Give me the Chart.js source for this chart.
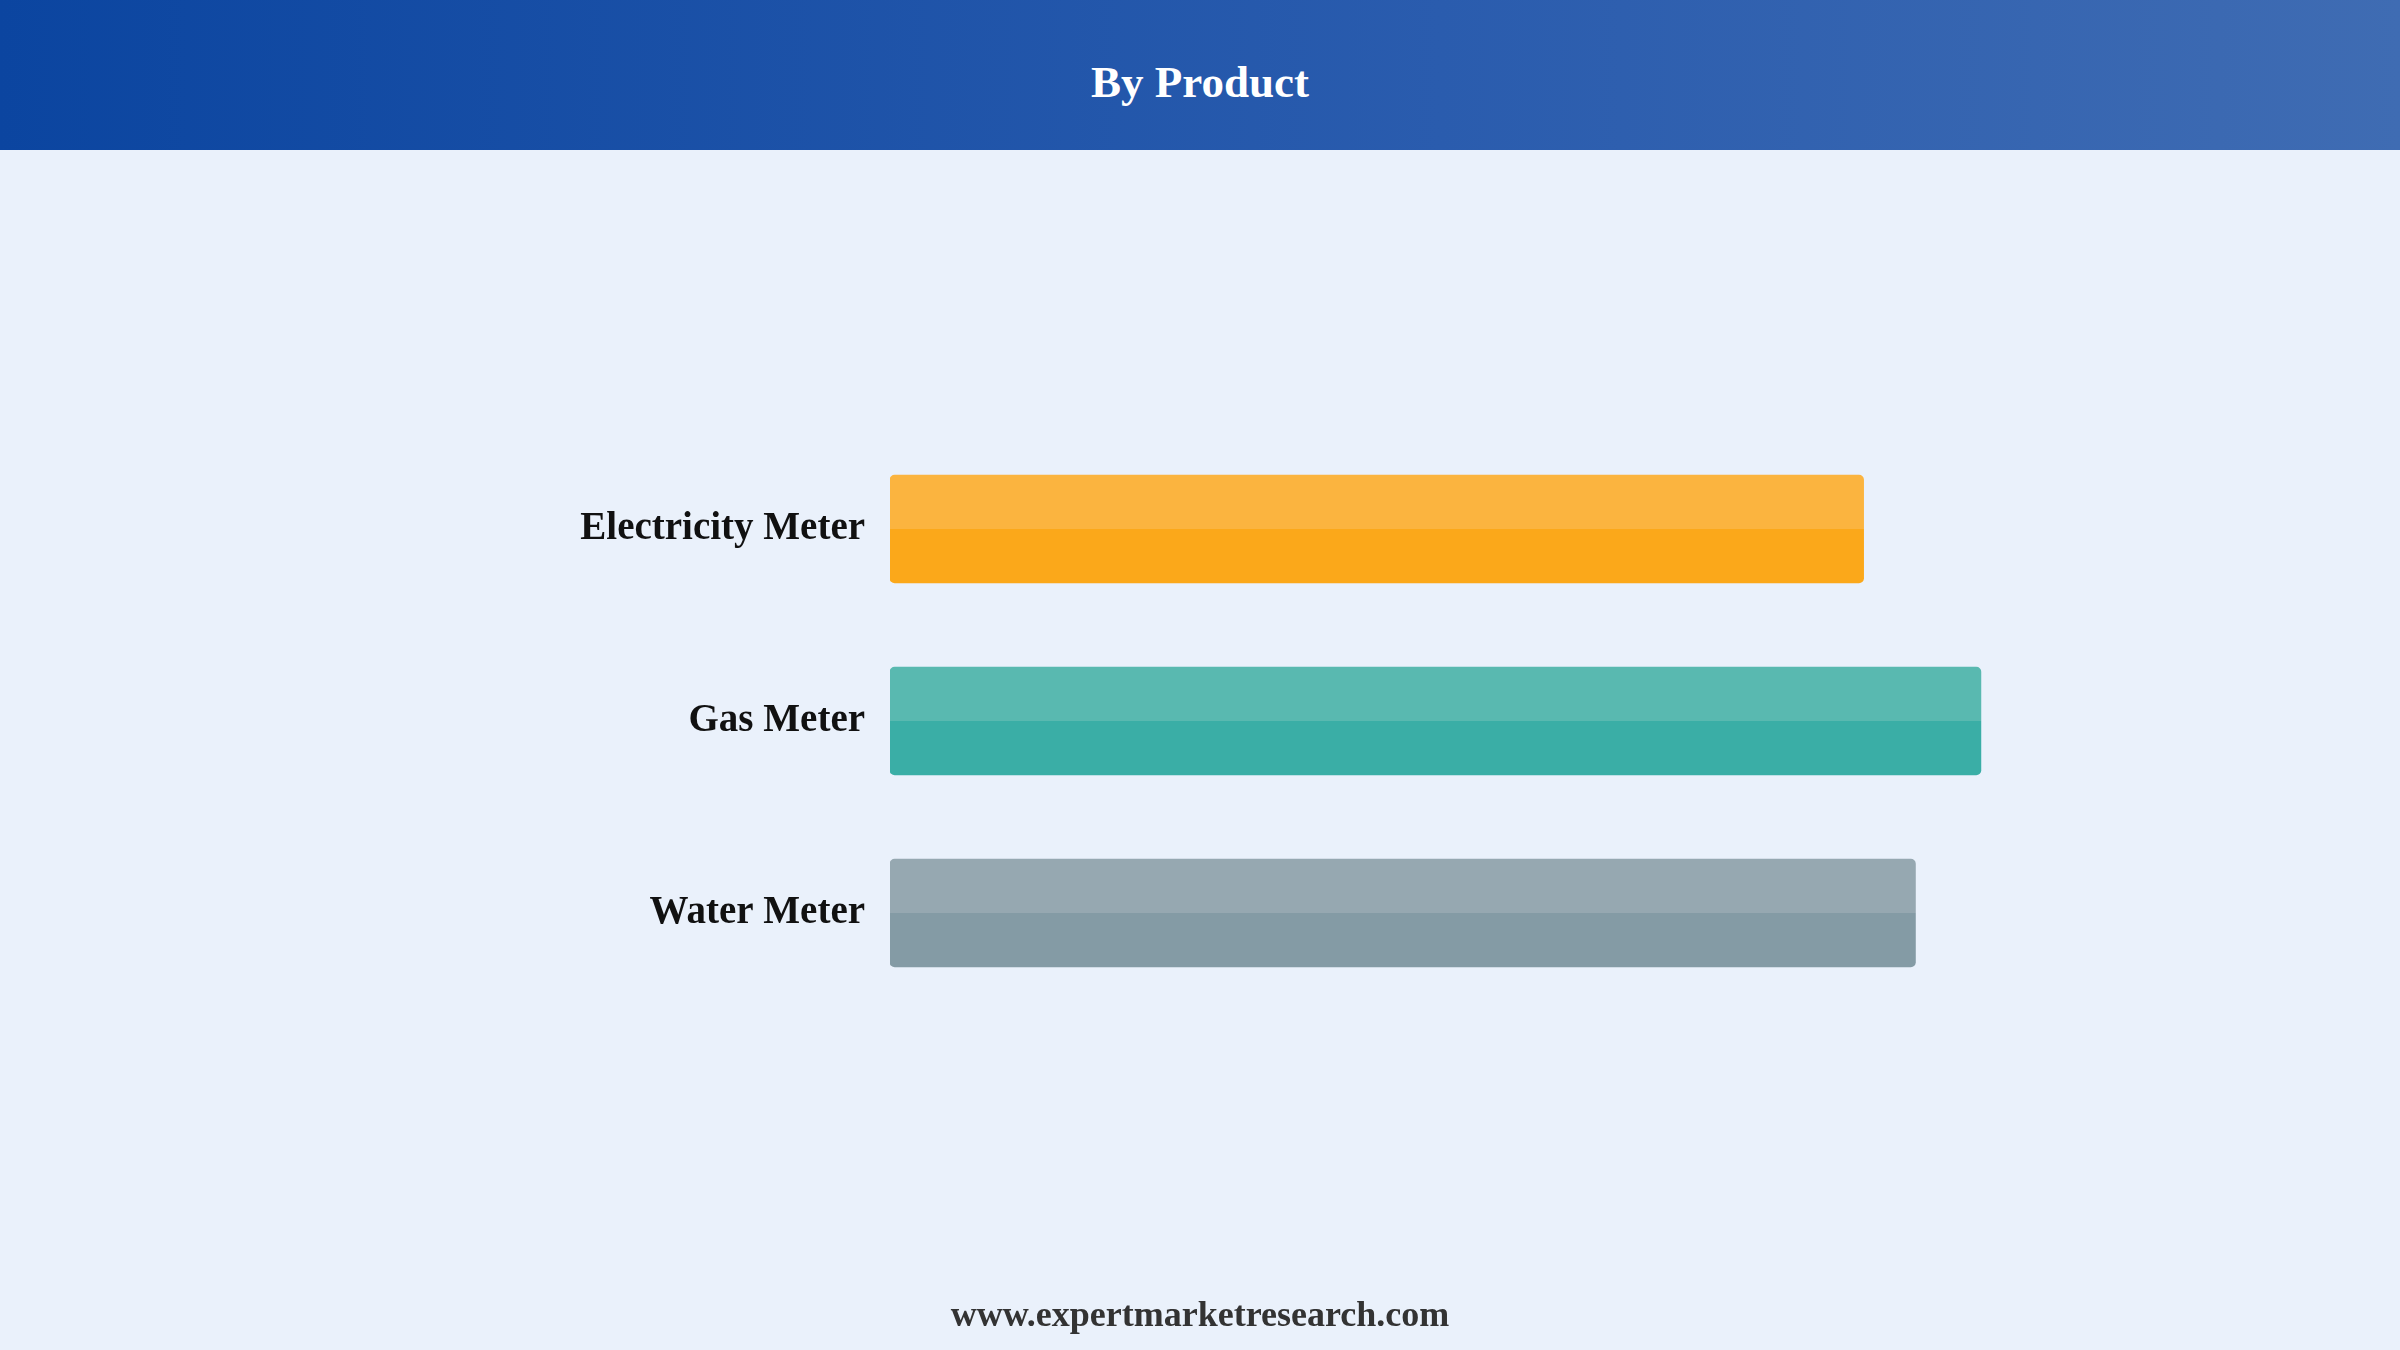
<!DOCTYPE html>
<html>
<head>
<meta charset="utf-8">
<script src="https://cdn.jsdelivr.net/npm/chart.js@4.4.1/dist/chart.umd.min.js"></script>
<style>
  html, body { margin: 0; padding: 0; }
  body { width: 2400px; height: 1350px; background: #eaf1fb; position: relative; overflow: hidden; font-family: "Liberation Serif", "Times New Roman", serif; }
  #header { position: absolute; left: 0; top: 0; width: 2400px; height: 150px;
    background: linear-gradient(to right, #0b45a0, #2a5cae 60%, #3f6cb3); }
  #title { position: absolute; left: 0; width: 2400px; top: 54px; text-align: center; color: #fff; font-weight: bold; font-size: 45px; line-height: 56px; }
  #footer { position: absolute; left: 0; width: 2400px; top: 1292px; text-align: center; color: #333; font-weight: bold; font-size: 36px; line-height: 44px; }
  #wrap { position: absolute; left: 0; top: 0; width: 2400px; height: 1350px; }
</style>
</head>
<body>
<div id="header"></div>
<div id="title">By Product</div>
<div id="wrap"><canvas id="myChart"></canvas></div>
<div id="footer">www.expertmarketresearch.com</div>
<script>
const categories = ['Electricity Meter', 'Gas Meter', 'Water Meter'];
const values = [35.7, 40.0, 37.6];
const topColors = ['#fbb43f', '#59b9b0', '#96a8b1'];
const bottomColors = ['#fba81a', '#3aaea6', '#849ba5'];

const barSize = 108;

// light top half, darker bottom half
function barFill(c) {
    const chart = c.chart;
    const y = chart.scales.y;
    const i = c.dataIndex;
    if (!y || i === undefined) return bottomColors[0];
    const yc = y.getPixelForValue(i);
    if (!isFinite(yc)) return bottomColors[i];
    const g = chart.ctx.createLinearGradient(0, yc - barSize / 2, 0, yc + barSize / 2);
    g.addColorStop(0, topColors[i]);
    g.addColorStop(0.5, topColors[i]);
    g.addColorStop(0.5, bottomColors[i]);
    g.addColorStop(1, bottomColors[i]);
    return g;
}

const ctx = document.getElementById('myChart').getContext('2d');

var graphData = {
    type: 'bar',
    data: {
        labels: categories,
        datasets: [{
            data: values,
            backgroundColor: barFill,
            barThickness: barSize,
            borderRadius: 5,
            borderSkipped: false
        }]
    },
    options: {
        indexAxis: 'y',
        responsive: false,
        animation: false,
        layout: { padding: { top: 433, bottom: 341, left: 0, right: 310 } },
        plugins: { legend: { display: false }, tooltip: { enabled: false } },
        scales: {
            x: { display: false, min: 0, max: 44 },
            y: {
                grid: { display: false },
                border: { display: false },
                afterFit: function (scale) { scale.width = 890; },
                ticks: {
                    padding: 17,
                    color: '#111',
                    font: { family: '"Liberation Serif", "Times New Roman", serif', size: 39, weight: 'bold' }
                }
            }
        }
    }
};

ctx.canvas.width = 2400;
ctx.canvas.height = 1350;
const myChart = new Chart(ctx, graphData);
myChart.update();
</script>
</body>
</html>
